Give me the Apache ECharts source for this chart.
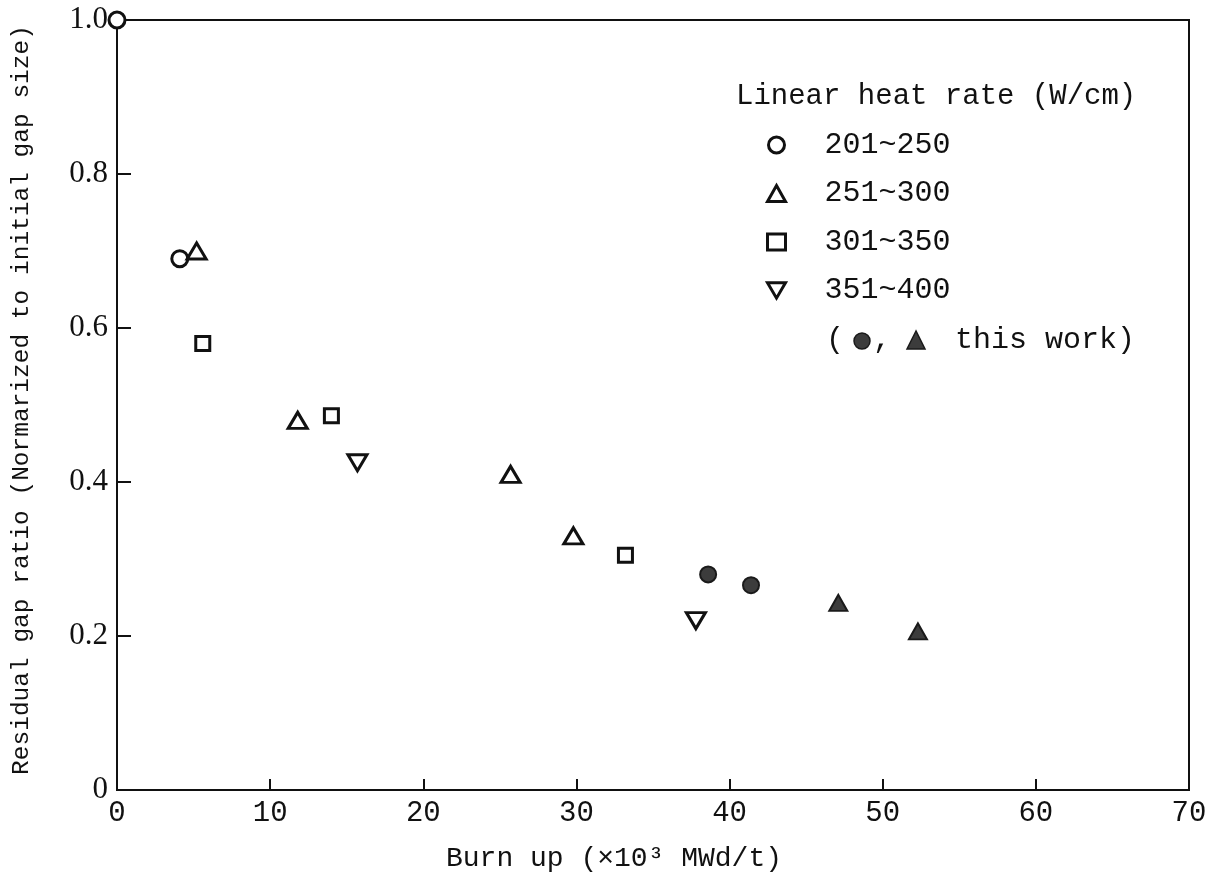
<!DOCTYPE html>
<html>
<head>
<meta charset="utf-8">
<script src="https://cdn.jsdelivr.net/npm/echarts@6/dist/echarts.min.js"></script>
<style>html,body{margin:0;padding:0;background:#fff;}#c{width:1211px;height:884px;}</style>
</head>
<body>
<div id="c"></div>
<script>
// Data: [burn up (x10^3 MWd/t), residual gap ratio]
const s201_250 = [[0, 1.0], [4.1, 0.69]];
const s251_300 = [[5.2, 0.70], [11.8, 0.48], [25.7, 0.41], [29.8, 0.33]];
const s301_350 = [[5.6, 0.58], [14.0, 0.486], [33.2, 0.305]];
const s351_400 = [[15.7, 0.425], [37.8, 0.22]];
const thisWorkCircle = [[38.6, 0.28], [41.4, 0.266]];
const thisWorkTriangle = [[47.1, 0.243], [52.3, 0.206]];
const legendNames = ['201~250', '251~300', '301~350', '351~400'];
const xTicks = [0, 10, 20, 30, 40, 50, 60, 70];
const yTicks = [0, 0.2, 0.4, 0.6, 0.8, 1.0];

const chart = echarts.init(document.getElementById('c'));
const mono = 'Liberation Mono';
const serif = 'Liberation Serif';
const hollow = {color: '#fff', borderColor: '#111', borderWidth: 3, opacity: 1};
const filled = {color: '#3c3c3c', borderColor: '#1a1a1a', borderWidth: 2, opacity: 1};
const downTri = 'path://M0,0 L20,0 L10,17 Z';

function scat(name, data, symbol, size, style) {
  return {
    name: name, type: 'scatter', data: data, symbol: symbol, symbolSize: size,
    itemStyle: style, clip: false, z: 5
  };
}
const legendIcons = ['circle', 'triangle', 'rect', downTri];

chart.setOption({
  animation: false,
  backgroundColor: '#fff',
  grid: {left: 117, top: 20, right: 22, bottom: 94, show: true, borderColor: '#111', borderWidth: 2,
    backgroundColor: 'transparent', outerBoundsMode: 'none', containLabel: false},
  title: {
    text: 'Linear heat rate (W/cm)', left: 731, top: 77,
    textStyle: {fontFamily: mono, fontSize: 29, fontWeight: 'normal', color: '#111'}
  },
  legend: {
    data: legendNames.map((n, i) => ({name: n, icon: legendIcons[i],
      itemStyle: {color: '#fff', borderColor: '#111', borderWidth: 3, opacity: 1}})),
    orient: 'vertical', left: 761, top: 125,
    itemWidth: 18, itemHeight: 16, itemGap: 18.5,
    textStyle: {fontFamily: mono, fontSize: 30, color: '#111', lineHeight: 30, padding: [0, 0, 0, 34]},
    selectedMode: false
  },
  xAxis: {
    type: 'value', min: 0, max: 70, interval: 10,
    name: 'Burn up (×10³ MWd/t)', nameLocation: 'middle', nameGap: 55,
    nameTextStyle: {fontFamily: mono, fontSize: 28, color: '#111', padding: [0, 78, 0, 0]},
    axisLine: {show: true, lineStyle: {color: '#111', width: 2}},
    axisTick: {show: true, inside: true, length: 11, lineStyle: {color: '#111', width: 2}},
    axisLabel: {fontFamily: mono, fontSize: 29, color: '#111', margin: 9,
      formatter: v => xTicks.includes(v) ? String(v) : ''},
    splitLine: {show: false}
  },
  yAxis: {
    type: 'value', min: 0, max: 1.0, interval: 0.2,
    name: 'Residual gap ratio (Normarized to initial gap size)', nameLocation: 'middle', nameGap: 83,
    nameRotate: 90,
    nameTextStyle: {fontFamily: mono, fontSize: 24.5, color: '#111', padding: [0, 0, 0, 10]},
    axisLine: {show: true, lineStyle: {color: '#111', width: 2}},
    axisTick: {show: true, inside: true, length: 14, lineStyle: {color: '#111', width: 2}},
    axisLabel: {fontFamily: serif, fontSize: 31, color: '#111', margin: 9,
      formatter: v => { const t = yTicks.find(k => Math.abs(k - v) < 1e-9); return t === undefined ? '' : (t === 0 ? '0' : t.toFixed(1)); }},
    splitLine: {show: false}
  },
  graphic: [
    {type: 'text', left: 826, top: 325, style: {text: '(', font: '30px "Liberation Mono"', fill: '#111'}},
    {type: 'circle', shape: {cx: 862, cy: 341, r: 8}, style: {fill: '#3c3c3c', stroke: '#1a1a1a', lineWidth: 1.5}},
    {type: 'text', left: 873, top: 325, style: {text: ',', font: '30px "Liberation Mono"', fill: '#111'}},
    {type: 'polygon', shape: {points: [[916, 331], [907, 349], [925, 349]]}, style: {fill: '#3c3c3c', stroke: '#1a1a1a', lineWidth: 1.5}},
    {type: 'text', left: 955, top: 325, style: {text: 'this work)', font: '30px "Liberation Mono"', fill: '#111'}}
  ],
  series: [
    scat('201~250', s201_250, 'circle', 16, hollow),
    scat('251~300', s251_300, 'triangle', [19, 16], hollow),
    scat('301~350', s301_350, 'rect', 14, hollow),
    scat('351~400', s351_400, downTri, [19, 16], hollow),
    scat('this work (circle)', thisWorkCircle, 'circle', 16, filled),
    scat('this work (triangle)', thisWorkTriangle, 'triangle', [18, 16], filled)
  ]
});
</script>
</body>
</html>
